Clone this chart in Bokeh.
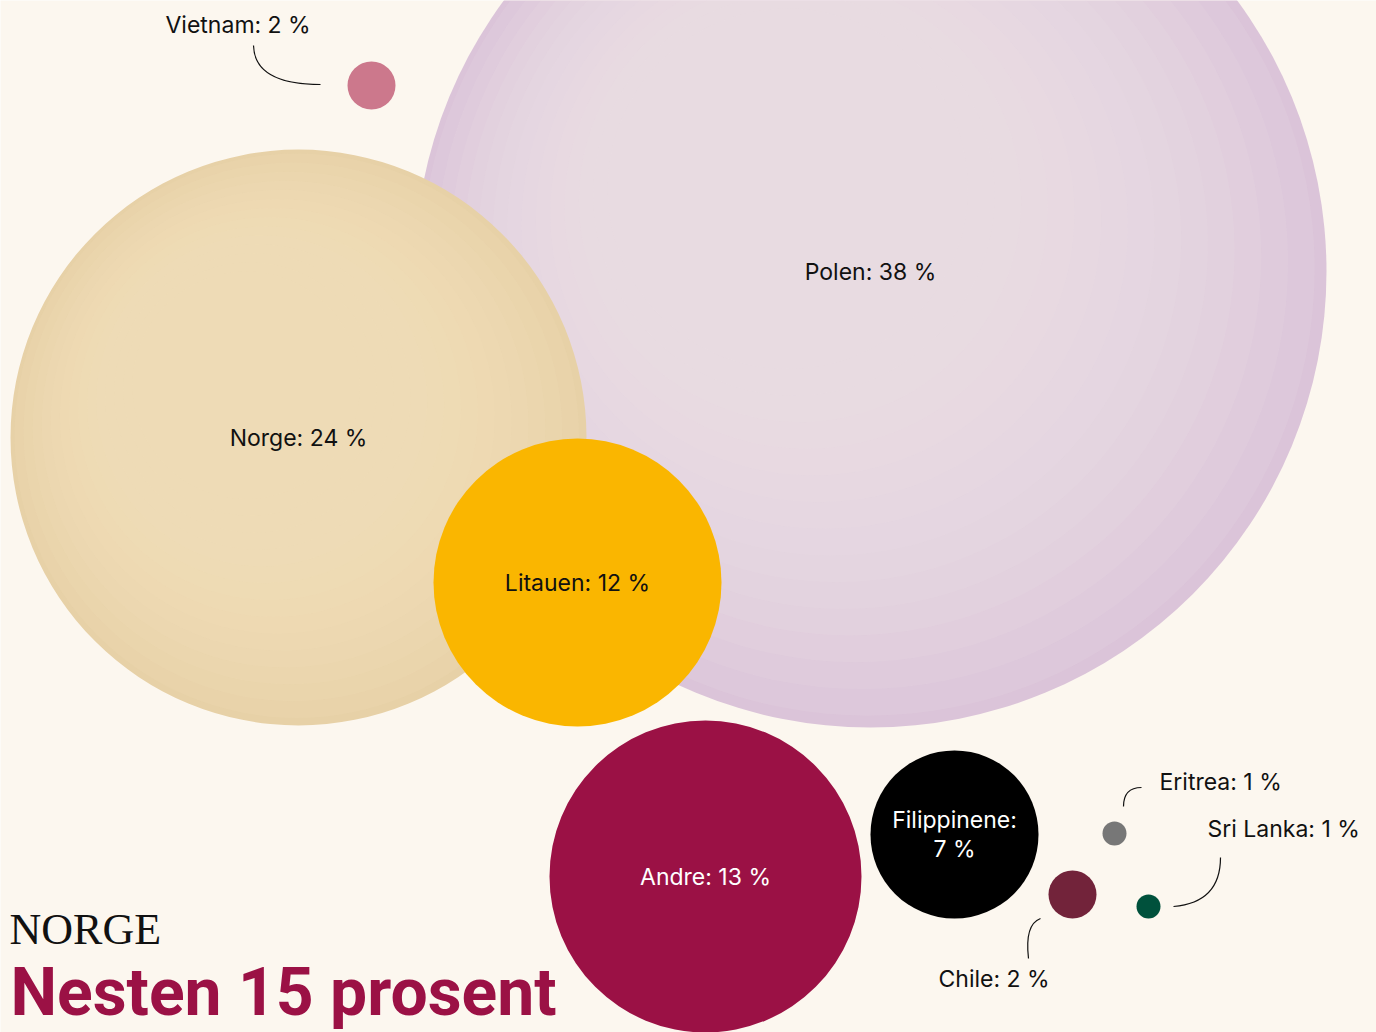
from bokeh.plotting import figure
from bokeh.models import Range1d, ColumnDataSource
from bokeh.core.properties import value
from bokeh.embed import file_html
from bokeh.resources import INLINE

# ---- data ----
countries = ["Polen", "Norge", "Litauen", "Andre", "Filippinene", "Vietnam", "Chile", "Eritrea", "Sri Lanka"]
shares = [38, 24, 12, 13, 7, 2, 2, 1, 1]

# ---- layout (bubble centres in page pixels, y downward) ----
cx = [870, 298, 577, 705, 954, 371, 1072, 1114, 1148]
cy = [271, 437, 582, 876, 834, 85, 894, 833, 906]
fills = ["#dbc4d9", "#e7d1a7", "#fab600", "#9b1145", "#000000", "#cc788c", "#72233a", "#777777", "#00513c"]
centre_tint = ["#ebe1e9", "#f2e1bb"]   # lighter centre of the two textured bubbles
PX_PER_PCT = 12.0

labels = [f"{c}: {s} %" for c, s in zip(countries, shares)]
labels[4] = "Filippinene:\n7 %"

inside = [0, 1, 2, 3, 4]
inside_color = ["#111111", "#111111", "#111111", "#ffffff", "#ffffff"]
outside = [5, 6, 7, 8]
out_x = [165, 938, 1159, 1207]
out_y = [24, 978, 781, 828]

# leader curves: start, control, end
lead_x0 = [253, 1028, 1123, 1173]
lead_y0 = [45, 958, 806, 906]
lead_cx = [254, 1024, 1123, 1220]
lead_cy = [84, 924, 787, 902]
lead_x1 = [320, 1040, 1141, 1220]
lead_y1 = [84, 918, 787, 857]

BG = "#fcf7ef"
W, H = 1376, 1032
FONT = "Inter"

p = figure(width=W, height=H, output_backend="svg", toolbar_location=None,
           x_range=Range1d(0, W), y_range=Range1d(H, 0), min_border=0)
p.axis.visible = False
p.grid.visible = False
p.outline_line_color = None
p.background_fill_color = BG
p.border_fill_color = BG

radii = [s * PX_PER_PCT for s in shares]

def shaded_bubble(i):
    p.circle(x=cx[i], y=cy[i], radius=radii[i], fill_color=fills[i], line_color=None)
    n = 14
    for k in range(n):
        f = 0.98 - k * 0.045
        p.circle(x=cx[i] - radii[i] * (1 - f) * 0.3, y=cy[i] - radii[i] * (1 - f) * 0.3,
                 radius=radii[i] * f, fill_color=centre_tint[i], fill_alpha=0.16,
                 line_color=None)

shaded_bubble(0)
shaded_bubble(1)

rest = list(range(2, len(countries)))
src = ColumnDataSource(dict(x=[cx[i] for i in rest], y=[cy[i] for i in rest],
                            r=[radii[i] for i in rest], c=[fills[i] for i in rest]))
p.circle(x="x", y="y", radius="r", fill_color="c", line_color=None, source=src)

p.text(x=[cx[i] for i in inside], y=[cy[i] for i in inside],
       text=[labels[i] for i in inside], text_color=inside_color,
       text_font=value(FONT), text_font_size="23px",
       text_align="center", text_baseline="middle", text_line_height=1.05)

p.text(x=out_x, y=out_y, text=[labels[i] for i in outside], text_color="#111111",
       text_font=value(FONT), text_font_size="23px",
       text_align="left", text_baseline="middle")

p.quadratic(x0=lead_x0, y0=lead_y0, x1=lead_x1, y1=lead_y1, cx=lead_cx, cy=lead_cy,
            line_color="#111111", line_width=1.2)

p.text(x=[9], y=[929], text=["NORGE"], text_font=value("Liberation Serif"),
       text_font_size="44px", text_color="#111111", text_baseline="middle")
p.text(x=[10], y=[992], text=["Nesten 15 prosent"],
       text_font=value("Roboto"),
       text_font_style="bold", text_font_size="66px", text_color="#9b1145",
       text_baseline="middle")

open("out.html", "w").write(file_html(p, INLINE))
